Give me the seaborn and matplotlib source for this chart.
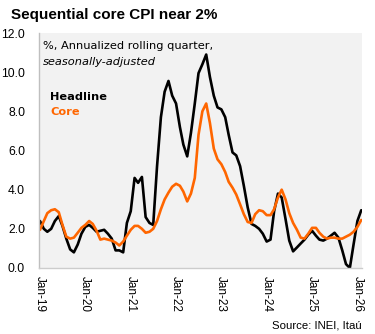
import matplotlib
matplotlib.use("Agg")
import matplotlib.pyplot as plt
import matplotlib.dates as mdates
import numpy as np
import pandas as pd
import seaborn as sns

# Monthly readings, Jan-2019 .. Feb-2026 (% annualized rolling quarter, s.a.)
start_month = "2019-01-01"
headline = [
    2.4, 2.0, 1.85, 2.0, 2.4, 2.65, 2.15, 1.5, 0.95, 0.8, 1.2, 1.75,
    2.1, 2.2, 2.05, 1.85, 1.9, 1.95, 1.75, 1.5, 0.9, 0.9, 0.8, 2.3,
    2.9, 4.6, 4.35, 4.65, 2.6, 2.3, 2.2, 5.2, 7.7, 9.0, 9.55, 8.8,
    8.4, 7.2, 6.3, 5.7, 6.9, 8.4, 9.95, 10.4, 10.9, 9.75, 8.8, 8.2,
    8.1, 7.7, 6.8, 5.9, 5.75, 5.2, 4.2, 3.1, 2.25, 2.15, 2.0, 1.75,
    1.35, 1.45, 2.9, 3.8, 3.6, 2.5, 1.4, 0.85, 1.05, 1.25, 1.45, 1.7,
    1.9, 1.65, 1.45, 1.4, 1.5, 1.65, 1.8, 1.55, 0.9, 0.2, 0.0, 1.2,
    2.4, 2.95,
]
core = [
    1.95, 2.4, 2.8, 2.95, 3.0, 2.85, 2.2, 1.6, 1.5, 1.55, 1.8, 2.05,
    2.2, 2.4, 2.25, 1.9, 1.45, 1.5, 1.45, 1.4, 1.3, 1.15, 1.35, 1.65,
    1.95, 2.15, 2.15, 2.0, 1.8, 1.85, 2.0, 2.4, 3.0, 3.5, 3.85, 4.15,
    4.3, 4.2, 3.9, 3.4, 3.8, 4.6, 6.8, 8.0, 8.4, 7.4, 6.1, 5.55,
    5.3, 4.9, 4.4, 4.1, 3.75, 3.25, 2.75, 2.35, 2.3, 2.75, 2.95, 2.9,
    2.7, 2.7, 3.0, 3.6, 4.0, 3.5, 2.8, 2.3, 1.95, 1.55, 1.5, 1.75,
    2.05, 2.05, 1.8, 1.6, 1.5, 1.55, 1.55, 1.5, 1.5, 1.6, 1.7, 1.85,
    2.1, 2.45,
]
series_names = ["Headline", "Core"]
series_colors = ["#000000", "#ff6600"]
y_ticks = [0, 2, 4, 6, 8, 10, 12]
tick_years = list(range(2019, 2027))

title = "Sequential core CPI near 2%"
note_line1 = "%, Annualized rolling quarter,"
note_line2 = "seasonally-adjusted"
source = "Source: INEI, Itaú"

dates = pd.date_range(start_month, periods=len(headline), freq="MS")
df = pd.concat([
    pd.DataFrame({"date": dates, "value": headline, "series": "Headline"}),
    pd.DataFrame({"date": dates, "value": core, "series": "Core"}),
], ignore_index=True)

sns.set_theme(style="white")
plt.rcParams["font.family"] = ["Liberation Sans", "DejaVu Sans"]

W, H = 375, 334
fig = plt.figure(figsize=(W / 100, H / 100), dpi=100)
fig.patch.set_facecolor("white")

def fx(px):
    return px / W

def fy(py):
    return 1 - py / H

left, right, top, bottom = 39, 362, 33, 268
ax = fig.add_axes([fx(left), fy(bottom), (right - left) / W, (bottom - top) / H])
ax.set_facecolor("#f2f2f2")

sns.lineplot(data=df, x="date", y="value", hue="series",
             hue_order=series_names,
             palette=dict(zip(series_names, series_colors)),
             linewidth=1.9, legend=False, ax=ax)

ax.set_ylim(0, 12)
ax.set_yticks(y_ticks)
ax.set_yticklabels([f"{v:.1f}" for v in y_ticks], fontsize=8.7, color="#000000")

x0 = pd.Timestamp("2019-01-01") - pd.Timedelta(days=8)
x1 = x0 + pd.Timedelta(days=int(7.125 * 365.25))
ax.set_xlim(x0, x1)
ax.set_xticks([pd.Timestamp(f"{y}-01-01") for y in tick_years])
ax.xaxis.set_major_formatter(mdates.DateFormatter("%b-%y"))
plt.setp(ax.get_xticklabels(), rotation=270, ha="center", va="top",
         fontsize=8.5, color="#000000")
ax.tick_params(axis="x", length=0, pad=6)
ax.tick_params(axis="y", length=0, pad=10)
ax.set_xlabel("")
ax.set_ylabel("")
ax.grid(False)

for side in ["top", "right"]:
    ax.spines[side].set_visible(False)
ax.spines["left"].set_color("#bfbfbf")
ax.spines["left"].set_linewidth(1.0)
ax.spines["bottom"].set_color("#cccccc")
ax.spines["bottom"].set_linewidth(1.0)

fig.text(fx(11), fy(15), title, fontsize=11, fontweight="bold",
         ha="left", va="center", color="#000000")
fig.text(fx(43), fy(46), note_line1, fontsize=8.2, family=["DejaVu Sans"],
         ha="left", va="center", color="#000000")
fig.text(fx(43), fy(62), note_line2, fontsize=8.2, family=["DejaVu Sans"],
         style="italic", ha="left", va="center", color="#000000")
fig.text(fx(50), fy(97.5), "Headline", fontsize=8.2, family=["DejaVu Sans"],
         fontweight="bold", ha="left", va="center", color=series_colors[0])
fig.text(fx(50), fy(112), "Core", fontsize=8.2, family=["DejaVu Sans"],
         fontweight="bold", ha="left", va="center", color=series_colors[1])
fig.text(fx(362), fy(326), source, fontsize=8.2, ha="right", va="center",
         color="#000000")

fig.savefig("out.png", dpi=100, facecolor="white")
